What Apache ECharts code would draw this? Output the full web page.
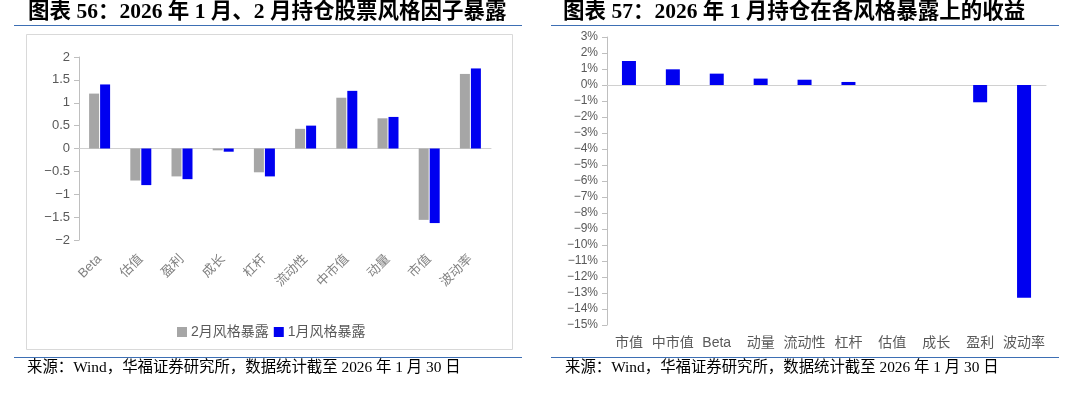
<!DOCTYPE html>
<html>
<head>
<meta charset="utf-8">
<script src="https://cdn.jsdelivr.net/npm/echarts@6/dist/echarts.min.js"></script>
<style>
html,body{margin:0;padding:0;background:#fff;}
#chart{width:1080px;height:397px;}
</style>
</head>
<body>
<div id="chart"></div>
<script>
// ---- data ----
const leftTitle = '图表 56：2026 年 1 月、2 月持仓股票风格因子暴露';
const rightTitle = '图表 57：2026 年 1 月持仓在各风格暴露上的收益';
const sourceText = '来源：Wind，华福证券研究所，数据统计截至 2026 年 1 月 30 日';
const leftCats = ['Beta', '估值', '盈利', '成长', '杠杆', '流动性', '中市值', '动量', '市值', '波动率'];
const febExposure = [1.2, -0.7, -0.61, -0.04, -0.52, 0.43, 1.11, 0.66, -1.56, 1.63];
const janExposure = [1.4, -0.8, -0.67, -0.07, -0.61, 0.5, 1.26, 0.69, -1.63, 1.75];
const seriesNames = ['2月风格暴露', '1月风格暴露'];
const rightCats = ['市值', '中市值', 'Beta', '动量', '流动性', '杠杆', '估值', '成长', '盈利', '波动率'];
const janReturn = [1.5, 0.98, 0.71, 0.4, 0.33, 0.19, 0, 0, -1.08, -13.3];

const cjk = '"Liberation Sans","Noto Sans CJK SC",sans-serif';
const serif = '"Liberation Serif","Noto Sans CJK SC",serif';
const minus = v => String(v).replace('-', '\u2212');
const blue = '#0000f0', gray = '#a6a6a6', axisCol = '#bfbfbf', lineBlue = '#3d6fb4';

const chart = echarts.init(document.getElementById('chart'), null, {renderer: 'canvas'});
chart.setOption({
  animation: false,
  backgroundColor: '#fff',
  grid: [
    {left: 79, right: 589, top: 57, bottom: 157},
    {left: 607, right: 34, top: 37, bottom: 72}
  ],
  legend: {
    data: seriesNames,
    left: 172, top: 320,
    itemWidth: 10, itemHeight: 10, itemGap: 5,
    icon: 'rect',
    textStyle: {fontSize: 14, color: '#595959', fontFamily: cjk, padding: [0, 0, 0, -1]}
  },
  xAxis: [
    {gridIndex: 0, type: 'category', data: leftCats, position: 'bottom',
     axisLine: {show: false, onZero: false}, axisTick: {show: false},
     axisLabel: {rotate: 45, interval: 0, margin: 17, fontSize: 13, color: '#808080', fontFamily: cjk}},
    {gridIndex: 0, type: 'category', data: leftCats,
     axisLine: {show: true, onZero: true, lineStyle: {color: '#d0d0d0'}}, axisTick: {show: false}, axisLabel: {show: false}},
    {gridIndex: 1, type: 'category', data: rightCats, position: 'bottom',
     axisLine: {show: false, onZero: false}, axisTick: {show: false},
     axisLabel: {interval: 0, margin: 11, fontSize: 14, color: '#595959', fontFamily: cjk}},
    {gridIndex: 1, type: 'category', data: rightCats,
     axisLine: {show: true, onZero: true, lineStyle: {color: '#d0d0d0'}}, axisTick: {show: false}, axisLabel: {show: false}}
  ],
  yAxis: [
    {gridIndex: 0, type: 'value', min: -2, max: 2, interval: 0.5,
     axisLine: {show: true, lineStyle: {color: axisCol}},
     axisTick: {show: true, inside: false, length: 5, lineStyle: {color: axisCol}},
     splitLine: {show: false},
     axisLabel: {fontSize: 13, color: '#595959', margin: 9, fontFamily: cjk, formatter: v => minus(v)}},
    {gridIndex: 1, type: 'value', min: -15, max: 3, interval: 1,
     axisLine: {show: true, lineStyle: {color: axisCol}},
     axisTick: {show: true, inside: false, length: 5, lineStyle: {color: axisCol}},
     splitLine: {show: false},
     axisLabel: {fontSize: 12, color: '#595959', margin: 9, fontFamily: cjk, formatter: v => minus(v) + '%'}}
  ],
  series: [
    {name: seriesNames[0], type: 'bar', xAxisIndex: 0, yAxisIndex: 0, data: febExposure,
     barWidth: 10, barGap: '10%', itemStyle: {color: gray}},
    {name: seriesNames[1], type: 'bar', xAxisIndex: 0, yAxisIndex: 0, data: janExposure,
     barWidth: 10, barGap: '10%', itemStyle: {color: blue}},
    {name: '收益', type: 'bar', xAxisIndex: 2, yAxisIndex: 1, data: janReturn,
     barWidth: 14, itemStyle: {color: blue}}
  ],
  graphic: [
    {type: 'rect', z: -1, shape: {x: 26.5, y: 34.5, width: 486, height: 315},
     style: {fill: 'rgba(0,0,0,0)', stroke: '#d9d9d9', lineWidth: 1}},
    {type: 'text', x: 28, y: 12.5, style: {text: leftTitle, font: 'bold 21.5px ' + serif, fill: '#000', textVerticalAlign: 'middle'}},
    {type: 'text', x: 563, y: 12.5, style: {text: rightTitle, font: 'bold 21.5px ' + serif, fill: '#000', textVerticalAlign: 'middle'}},
    {type: 'line', shape: {x1: 14, y1: 25.5, x2: 522, y2: 25.5}, style: {stroke: lineBlue, lineWidth: 1.2}},
    {type: 'line', shape: {x1: 551, y1: 25.5, x2: 1059, y2: 25.5}, style: {stroke: lineBlue, lineWidth: 1.2}},
    {type: 'line', shape: {x1: 14, y1: 357.5, x2: 522, y2: 357.5}, style: {stroke: lineBlue, lineWidth: 1.2}},
    {type: 'line', shape: {x1: 551, y1: 357.5, x2: 1059, y2: 357.5}, style: {stroke: lineBlue, lineWidth: 1.2}},
    {type: 'text', x: 27, y: 368, style: {text: sourceText, font: '15.4px ' + serif, fill: '#000', textVerticalAlign: 'middle'}},
    {type: 'text', x: 565, y: 368, style: {text: sourceText, font: '15.4px ' + serif, fill: '#000', textVerticalAlign: 'middle'}}
  ]
});
</script>
</body>
</html>
